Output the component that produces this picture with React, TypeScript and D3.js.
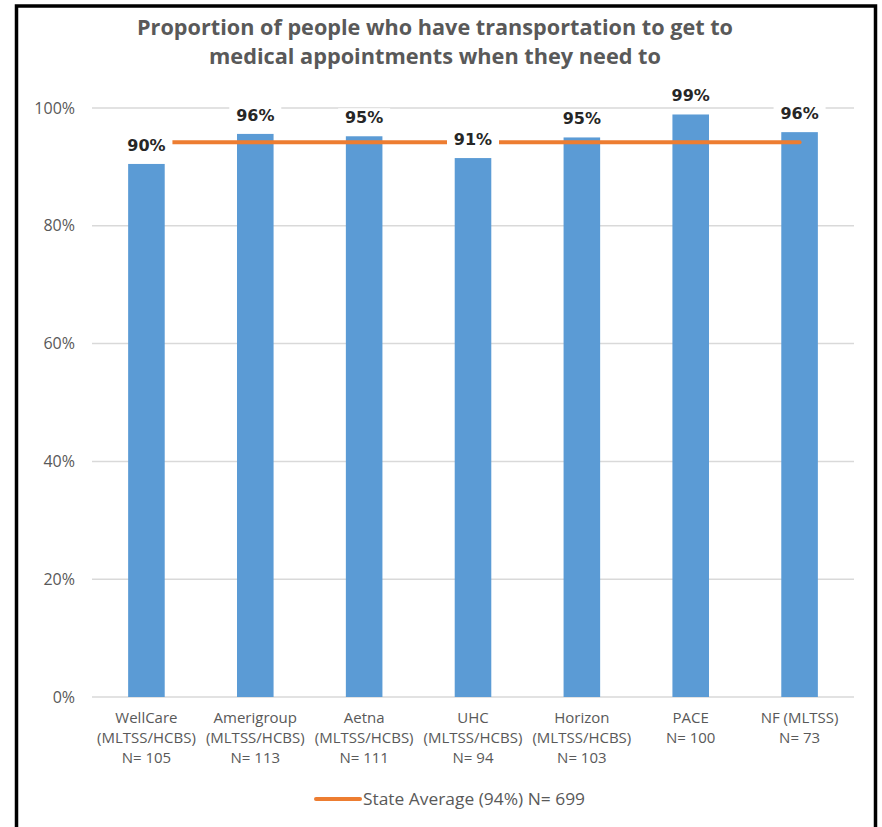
import React from "react";
import * as d3 from "d3";

const categories = ["WellCare", "Amerigroup", "Aetna", "UHC", "Horizon", "PACE", "NF"];
const subLabels = [
  ["WellCare", "(MLTSS/HCBS)", "N= 105"],
  ["Amerigroup", "(MLTSS/HCBS)", "N= 113"],
  ["Aetna", "(MLTSS/HCBS)", "N= 111"],
  ["UHC", "(MLTSS/HCBS)", "N= 94"],
  ["Horizon", "(MLTSS/HCBS)", "N= 103"],
  ["PACE", "N= 100"],
  ["NF (MLTSS)", "N= 73"],
];
const values = [0.905, 0.956, 0.952, 0.915, 0.95, 0.989, 0.959];
const valueLabels = ["90%", "96%", "95%", "91%", "95%", "99%", "96%"];
const stateAverage = 0.942;
const legendLabel = "State Average (94%) N= 699";
const yTicks = [0, 0.2, 0.4, 0.6, 0.8, 1.0];
const titleLines = [
  "Proportion of people who have transportation to get to",
  "medical appointments when they need to",
];

const W = 882;
const H = 827;
const BLUE = "#5B9BD5";
const ORANGE = "#ED7D31";
const GRAY = "#595959";
const FONT = "'Open Sans', 'Liberation Sans', sans-serif";

export default function App() {
  const x = d3
    .scaleBand<string>()
    .domain(categories)
    .range([92, 854])
    .paddingInner(0.664)
    .paddingOuter(0.332);
  const y = d3.scaleLinear().domain([0, 1]).range([697, 108]);
  const fmt = d3.format(".0%");
  const cx = (c: string) => (x(c) as number) + x.bandwidth() / 2;

  const avgY = y(stateAverage);
  const labelW = 52;
  const labelH = 19;

  return (
    <svg
      width={W}
      height={H}
      style={{ position: "absolute", left: 0, top: 0, background: "#fff" }}
    >
      <rect x={0} y={0} width={W} height={H} fill="#fff" />
      {/* title */}
      {titleLines.map((t, i) => (
        <text
          key={i}
          x={435}
          y={35 + i * 29}
          textAnchor="middle"
          fontFamily="'Liberation Sans Narrow', 'Open Sans', sans-serif"
          fontWeight="bold"
          fontSize={21}
          fill={GRAY}
          textLength={i === 0 ? 596 : 452}
          lengthAdjust="spacingAndGlyphs"
        >
          {t}
        </text>
      ))}
      {/* gridlines */}
      {yTicks.map((t) => (
        <g key={t}>
          <line
            x1={92}
            x2={854}
            y1={y(t)}
            y2={y(t)}
            stroke="#D9D9D9"
            strokeWidth={1.5}
          />
          <text
            x={75}
            y={y(t)}
            dy="0.35em"
            textAnchor="end"
            fontFamily={FONT}
            fontSize={16}
            fill={GRAY}
          >
            {fmt(t)}
          </text>
        </g>
      ))}
      {/* bars */}
      {categories.map((c, i) => (
        <rect
          key={c}
          x={x(c)}
          y={y(values[i])}
          width={x.bandwidth()}
          height={y(0) - y(values[i])}
          fill={BLUE}
        />
      ))}
      {/* state average line */}
      <line
        x1={cx(categories[0])}
        x2={cx(categories[categories.length - 1])}
        y1={avgY}
        y2={avgY}
        stroke={ORANGE}
        strokeWidth={4}
        strokeLinecap="round"
      />
      {/* value labels */}
      {categories.map((c, i) => {
        const base = y(values[i]) - 13;
        return (
          <g key={c}>
            <rect
              x={cx(c) - labelW / 2}
              y={base - 15}
              width={labelW}
              height={labelH}
              fill="#fff"
            />
            <text
              x={cx(c)}
              y={base}
              textAnchor="middle"
              fontFamily="'DejaVu Sans', sans-serif"
              fontWeight="bold"
              fontSize={16}
              fill="#262626"
            >
              {valueLabels[i]}
            </text>
          </g>
        );
      })}
      {/* category labels */}
      {categories.map((c, i) => (
        <text
          key={c}
          x={cx(c)}
          y={723}
          textAnchor="middle"
          fontFamily={FONT}
          fontSize={15}
          fill={GRAY}
        >
          {subLabels[i].map((s, j) => (
            <tspan key={j} x={cx(c)} dy={j === 0 ? 0 : 20}>
              {s}
            </tspan>
          ))}
        </text>
      ))}
      {/* legend */}
      <line
        x1={316}
        x2={360}
        y1={799}
        y2={799}
        stroke={ORANGE}
        strokeWidth={4}
        strokeLinecap="round"
      />
      <text
        x={363}
        y={799}
        dy="0.35em"
        fontFamily={FONT}
        fontSize={16.5}
        fill={GRAY}
        textLength={222}
        lengthAdjust="spacingAndGlyphs"
      >
        {legendLabel}
      </text>
      {/* frame */}
      <rect
        x={16.5}
        y={6}
        width={859}
        height={840}
        fill="none"
        stroke="#000"
        strokeWidth={3.5}
      />
    </svg>
  );
}
